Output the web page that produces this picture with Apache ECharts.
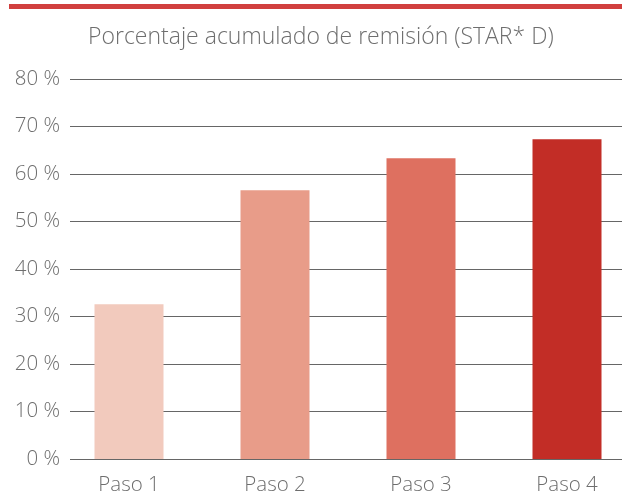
<!DOCTYPE html>
<html>
<head>
<meta charset="utf-8">
<script src="https://cdn.jsdelivr.net/npm/echarts@6/dist/echarts.min.js"></script>
<style>
  html, body { margin: 0; padding: 0; background: #fff; }
  #main { width: 622px; height: 497px; }
</style>
</head>
<body>
<div id="main"></div>
<script>
// datos del gráfico
var categorias = ['Paso 1', 'Paso 2', 'Paso 3', 'Paso 4'];
var remision = [32.6, 56.6, 63.3, 67.3];
var coloresBarra = ['#F2CABD', '#E89C89', '#DE7060', '#C22D26'];
var yTicks = { min: 0, max: 80, interval: 10 };

var chart = echarts.init(document.getElementById('main'));
var fuente = 'Open Sans';
var gris = '#6e6e6e';

var option = {
    animation: false,
    title: {
        text: 'Porcentaje acumulado de remisión (STAR* D)',
        left: 88,
        top: 21,
        padding: [5, 0, 5, 0],
        textStyle: { fontFamily: fuente, fontWeight: 300, fontSize: 23, color: gris }
    },
    graphic: [
        // franja roja superior
        { type: 'rect', shape: { x: 9, y: 4, width: 613, height: 5 }, style: { fill: '#D13F3E' } }
    ],
    grid: [
        // rejilla para las lineas y etiquetas del eje y
        { left: 70, right: 0, top: 79, bottom: 38, outerBoundsMode: 'none' },
        // rejilla para las barras
        { left: 56, width: 584, top: 79, bottom: 38, outerBoundsMode: 'none' }
    ],
    xAxis: [
        { type: 'category', gridIndex: 0, data: categorias, show: false },
        {
            type: 'category', gridIndex: 1, data: categorias,
            axisLine: { show: false }, axisTick: { show: false },
            axisLabel: { margin: 16, fontFamily: fuente, fontWeight: 300, fontSize: 20.5, color: gris }
        }
    ],
    yAxis: [
        {
            type: 'value', gridIndex: 0,
            min: yTicks.min, max: yTicks.max, interval: yTicks.interval,
            axisLine: { show: false }, axisTick: { show: false },
            axisLabel: {
                formatter: '{value} %', margin: 10, padding: [0, 0, 3, 0],
                fontFamily: fuente, fontWeight: 300, fontSize: 20.5, color: gris
            },
            splitLine: { lineStyle: { color: '#666', width: 1.2 } }
        },
        {
            type: 'value', gridIndex: 1,
            min: yTicks.min, max: yTicks.max, interval: yTicks.interval,
            show: false, splitLine: { show: false }
        }
    ],
    series: [
        {
            type: 'bar',
            xAxisIndex: 1, yAxisIndex: 1,
            barWidth: 69,
            data: remision.map(function (v, i) {
                return { value: v, itemStyle: { color: coloresBarra[i] } };
            })
        }
    ]
};

chart.setOption(option);
</script>
</body>
</html>
